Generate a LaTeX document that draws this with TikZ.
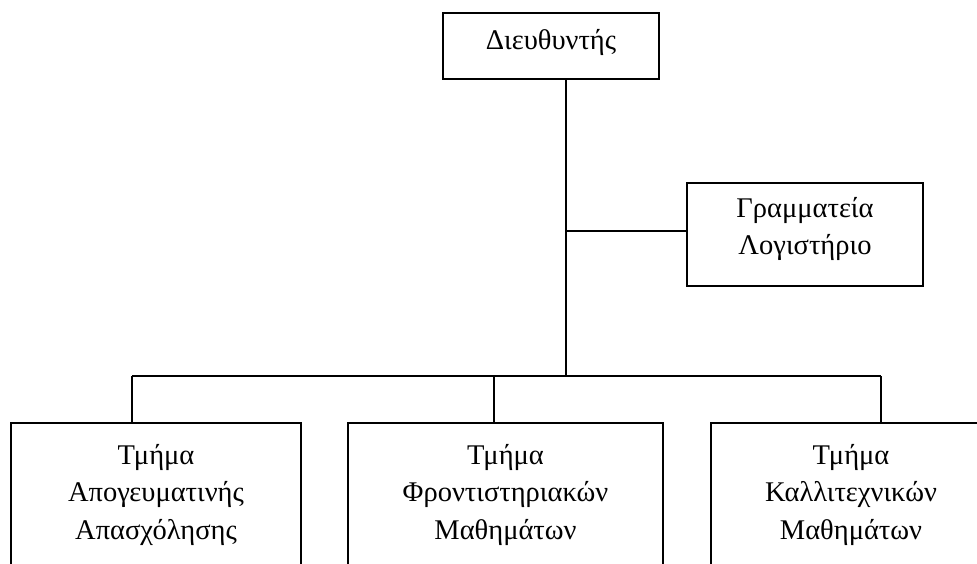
\documentclass[tikz,border=0pt]{standalone}
\usepackage{fontspec}
\setmainfont{Liberation Serif}
\begin{document}
\begin{tikzpicture}[x=1pt,y=1pt,
  box/.style={draw=black,line width=1.3pt,fill=none,inner sep=0pt},
  wire/.style={draw=black,line width=1.3pt},
  lbl/.style={anchor=base,align=center,inner sep=0pt,font=\fontsize{28.5}{37.5}\selectfont}]
\clip (0,0) rectangle (977,563);
\fill[white] (0,0) rectangle (977,563);
% boxes
\node[box,minimum width=216pt,minimum height=66pt] (dir) at (551,517) {};
\node[box,minimum width=236pt,minimum height=103pt] (sec) at (805,328.5) {};
\node[box,minimum width=290pt,minimum height=200pt] (lft) at (156,40) {};
\node[box,minimum width=315pt,minimum height=200pt] (mid) at (505.5,40) {};
\node[box,minimum width=280pt,minimum height=200pt] (rgt) at (851,40) {};
% texts
\node[lbl] (tdir) at (551,513) {Διευθυντής};
\node[lbl] (tsec) at (805,308) {Γραμματεία\\Λογιστήριο};
\node[lbl] (tlft) at (156,24) {Τμήμα\\Απογευματινής\\Απασχόλησης};
\node[lbl] (tmid) at (505.5,24) {Τμήμα\\Φροντιστηριακών\\Μαθημάτων};
\node[lbl] (trgt) at (851,24) {Τμήμα\\Καλλιτεχνικών\\Μαθημάτων};
% connectors
\coordinate (j) at (566,187);
\coordinate (s) at (566,332);
\coordinate (dl) at (132,187);
\coordinate (dm) at (494,187);
\coordinate (dr) at (881,187);
\draw[wire] (dir.south -| j) -- (j);
\draw[wire] (s) -- (s -| sec.west);
\draw[wire] (dl) -- (dr);
\draw[wire] (dl) -- (dl |- lft.north);
\draw[wire] (dm) -- (dm |- mid.north);
\draw[wire] (dr) -- (dr |- rgt.north);
\end{tikzpicture}
\end{document}
